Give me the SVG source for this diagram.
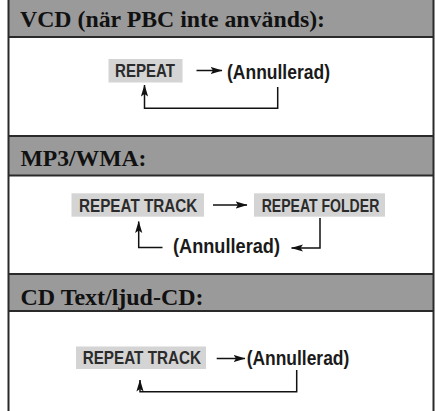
<svg xmlns="http://www.w3.org/2000/svg" width="435" height="411" viewBox="0 0 435 411">
<defs>
<marker id="ah" viewBox="0 0 12 8" refX="11.5" refY="4" markerWidth="12" markerHeight="8" markerUnits="userSpaceOnUse" orient="auto">
<path d="M0,0.4 L12,4 L0,7.6 L2.5,4 Z" fill="#111"/>
</marker>
</defs>
<style>
.hdr{fill:#9a9a9a}
.rule{stroke:#2a2a2a;stroke-width:2;fill:none}
.ht{font-family:"Liberation Serif","Times New Roman",serif;font-weight:bold;font-size:23.5px;fill:#111}
.box{fill:#d4d4d4}
.bt{font-family:"Liberation Sans Narrow","Liberation Sans",Arial,sans-serif;font-weight:bold;font-size:17.5px;fill:#2b2b2b}
.at{font-family:"Liberation Sans Narrow","Liberation Sans",Arial,sans-serif;font-weight:bold;font-size:20px;fill:#1a1a1a}
.c{stroke:#111;stroke-width:1.5;fill:none}
</style>
<rect x="0" y="0" width="435" height="411" fill="#fff"/>
<g id="frame">
<rect class="hdr" x="9" y="0" width="424" height="37"/>
<rect class="hdr" x="9" y="136" width="424" height="39"/>
<rect class="hdr" x="9" y="274" width="424" height="37"/>
<line class="rule" x1="8" y1="37" x2="434" y2="37"/>
<line class="rule" x1="8" y1="136" x2="434" y2="136"/>
<line class="rule" x1="8" y1="175.5" x2="434" y2="175.5"/>
<line class="rule" x1="8" y1="274" x2="434" y2="274"/>
<line class="rule" x1="8" y1="311" x2="434" y2="311"/>
<line class="rule" x1="8.5" y1="0" x2="8.5" y2="411"/>
<line class="rule" x1="433.5" y1="0" x2="433.5" y2="411"/>
</g>
<g id="header-vcd"><text class="ht" x="20" y="27" textLength="305" lengthAdjust="spacingAndGlyphs">VCD (när PBC inte används):</text></g>
<g id="header-mp3"><text class="ht" x="20.5" y="166" textLength="126" lengthAdjust="spacingAndGlyphs">MP3/WMA:</text></g>
<g id="header-cd"><text class="ht" x="20.5" y="304.5" textLength="183" lengthAdjust="spacingAndGlyphs">CD Text/ljud-CD:</text></g>

<g id="vcd-repeat"><rect class="box" x="108.5" y="59" width="74" height="23.5"/><text class="bt" x="115" y="77.3" textLength="60" lengthAdjust="spacingAndGlyphs">REPEAT</text></g>
<g id="vcd-cancel"><text class="at" x="227" y="78.5" textLength="103" lengthAdjust="spacingAndGlyphs">(Annullerad)</text></g>

<g id="mp3-track"><rect class="box" x="71.5" y="193.3" width="132.5" height="23.4"/><text class="bt" x="79" y="211.5" textLength="118.3" lengthAdjust="spacingAndGlyphs">REPEAT TRACK</text></g>
<g id="mp3-folder"><rect class="box" x="254" y="193.3" width="131" height="23.4"/><text class="bt" x="261.7" y="211.5" textLength="117.6" lengthAdjust="spacingAndGlyphs">REPEAT FOLDER</text></g>
<g id="mp3-cancel"><text class="at" x="173" y="252.5" textLength="107" lengthAdjust="spacingAndGlyphs">(Annullerad)</text></g>

<g id="cd-track"><rect class="box" x="76" y="346.5" width="130" height="22.5"/><text class="bt" x="82.7" y="364" textLength="118.3" lengthAdjust="spacingAndGlyphs">REPEAT TRACK</text></g>
<g id="cd-cancel"><text class="at" x="246.7" y="365" textLength="102.6" lengthAdjust="spacingAndGlyphs">(Annullerad)</text></g>

<g id="connectors">
<line class="c" x1="196.5" y1="70.5" x2="222" y2="70.5" marker-end="url(#ah)"/>
<polyline class="c" points="277.7,87 277.7,108.3 144.5,108.3 144.5,85" marker-end="url(#ah)"/>

<line class="c" x1="213" y1="205" x2="247" y2="205" marker-end="url(#ah)"/>
<polyline class="c" points="320,218 320,248 291.5,248" marker-end="url(#ah)"/>
<polyline class="c" points="162.5,247.5 138.7,247.5 138.7,221.5" marker-end="url(#ah)"/>

<line class="c" x1="216.7" y1="358.5" x2="245" y2="358.5" marker-end="url(#ah)"/>
<polyline class="c" points="296.7,370 296.7,391.7 140,391.7 140,380" marker-end="url(#ah)"/>
</g>
</svg>
